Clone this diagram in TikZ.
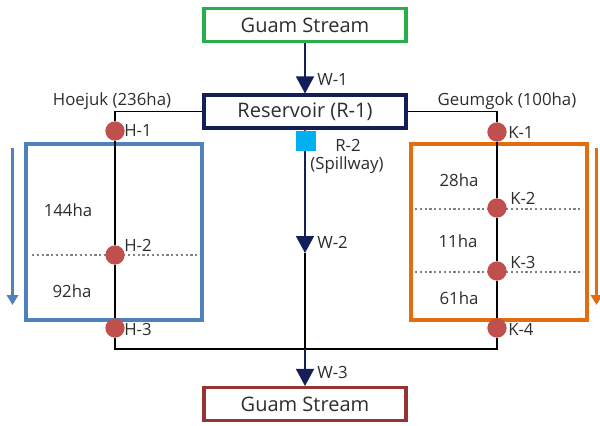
\documentclass[tikz,border=0pt]{standalone}
\usepackage{fontspec}
\setmainfont{Open Sans}
\usetikzlibrary{arrows.meta,backgrounds}
\definecolor{navy}{RGB}{20,30,90}
\definecolor{streamgreen}{RGB}{40,175,75}
\definecolor{streamred}{RGB}{150,50,50}
\definecolor{dotred}{RGB}{192,80,77}
\definecolor{zoneblue}{RGB}{79,129,189}
\definecolor{zoneorange}{RGB}{228,108,10}
\definecolor{spill}{RGB}{0,176,240}
\definecolor{txt}{RGB}{45,45,45}
\begin{document}
% one unit = one pixel of a 600 x 425 canvas
\begin{tikzpicture}[x=0.75pt,y=-0.75pt,
  box/.style={draw,line width=2.3pt,minimum width=151.5pt,minimum height=24.75pt,inner sep=0pt,fill=white,font=\fontsize{15}{17}\selectfont,text=txt},
  pipe/.style={line width=1.1pt,black},
  flow/.style={pipe,-{Triangle[width=13.5pt,length=12.75pt]},navy},
  pt/.style={circle,fill=dotred,minimum size=14.5pt,inner sep=0pt},
  spillbox/.style={fill=spill,minimum size=15pt,inner sep=0pt},
  lbl/.style={font=\fontsize{12.6}{14}\selectfont,text=txt,inner sep=0pt},
  divider/.style={dotted,line width=1.6pt,gray},
  zone/.style={line width=2.4pt},
  dirarrow/.style={line width=2.6pt,-{Triangle[width=8.5pt,length=7.5pt]}}]
\useasboundingbox (0,0) rectangle (600,425);

% main nodes
\node[box,draw=streamgreen] (g1) at (305,25) {Guam Stream};
\node[box,draw=navy] (res) at (305,111.5) {Reservoir (R-1)};
\node[box,draw=streamred] (g2) at (305,404) {Guam Stream};

% points on the two canals
\node[pt] (h1) at (115,131) {};
\node[pt] (h2) at (115,255) {};
\node[pt] (h3) at (115,328) {};
\node[pt] (k1) at (497,132) {};
\node[pt] (k2) at (497,208) {};
\node[pt] (k3) at (497,271) {};
\node[pt] (k4) at (497,328) {};
\node[spillbox] (r2) at (306,141) {};
\coordinate (j) at (305,349);
\coordinate (w2) at (305,253);

\begin{scope}[on background layer]
  % irrigated zones
  \draw[zone,zoneblue] (26,144) rectangle (202,320);
  \draw[zone,zoneorange] (411,144) rectangle (587,320);
  \draw[divider] (32,255) -- (198,255);
  \draw[divider] (415,209) -- (583,209);
  \draw[divider] (415,272) -- (583,272);
  % canals and pipes
  \draw[pipe] (res.west) -| (h1);
  \draw[pipe] (res.east) -| (k1);
  \draw[pipe] (h1) -- (h2) -- (h3);
  \draw[pipe] (k1) -- (k2) -- (k3) -- (k4);
  \draw[pipe] (h3) |- (j);
  \draw[pipe] (k4) |- (j);
  \draw[pipe] (res.south) -- (r2);
  \draw[pipe] (w2) -- (j);
\end{scope}
\draw[dirarrow,zoneblue] (12.5,148) -- (12.5,305);
\draw[dirarrow,zoneorange] (596.5,148) -- (596.5,305);
\draw[flow] (g1.south) -- (res.north);
\draw[flow] (r2.south -| w2) -- (w2);
\draw[flow] (j) -- (g2.north);

% labels
\node[lbl] at (112,101) {Hoejuk (236ha)};
\node[lbl] at (507,101) {Geumgok (100ha)};
\node[lbl,anchor=west] at (317,80) {W-1};
\node[lbl,anchor=west] at (317,242) {W-2};
\node[lbl,anchor=west] at (317,372) {W-3};
\node[lbl] at (348,145) {R-2};
\node[lbl] at (347,165) {(Spillway)};
\node[lbl,anchor=west] at (124,131) {H-1};
\node[lbl,anchor=west] at (124,245) {H-2};
\node[lbl,anchor=west] at (124,329) {H-3};
\node[lbl,anchor=west] at (508,133) {K-1};
\node[lbl,anchor=west] at (510,198) {K-2};
\node[lbl,anchor=west] at (510,262) {K-3};
\node[lbl,anchor=west] at (508,329) {K-4};
\node[lbl] at (68,210) {144ha};
\node[lbl] at (72,291) {92ha};
\node[lbl] at (459,180) {28ha};
\node[lbl] at (458,241) {11ha};
\node[lbl] at (459,298) {61ha};
\end{tikzpicture}
\end{document}
